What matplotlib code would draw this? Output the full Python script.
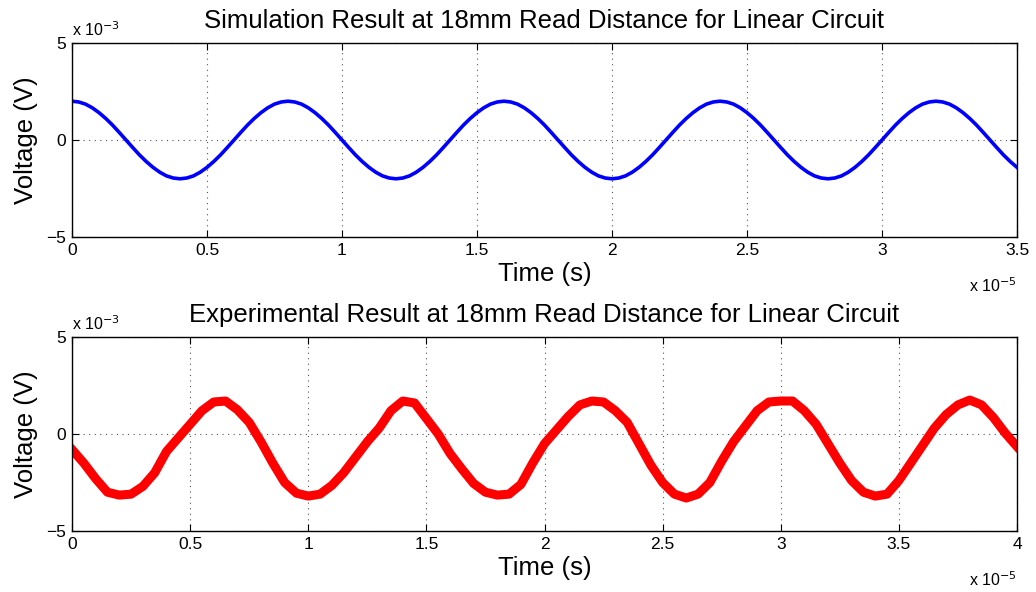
import numpy as np
import matplotlib
matplotlib.use("Agg")
import matplotlib.pyplot as plt
from matplotlib.ticker import FuncFormatter

plt.rcParams['font.family'] = ['Liberation Sans', 'DejaVu Sans']

# ---- data (time in units of 1e-5 s, voltage in units of 1e-3 V) ----
sim_t = [i * 0.025 for i in range(141)]
sim_v = [2.0, 1.96, 1.85, 1.66, 1.41, 1.11, 0.77, 0.39, 0.0, -0.39, -0.77, -1.11, -1.41, -1.66, -1.85, -1.96,
         -2.0, -1.96, -1.85, -1.66, -1.41, -1.11, -0.77, -0.39, 0.0, 0.39, 0.77, 1.11, 1.41, 1.66, 1.85, 1.96,
         2.0, 1.96, 1.85, 1.66, 1.41, 1.11, 0.77, 0.39, 0.0, -0.39, -0.77, -1.11, -1.41, -1.66, -1.85, -1.96,
         -2.0, -1.96, -1.85, -1.66, -1.41, -1.11, -0.77, -0.39, 0.0, 0.39, 0.77, 1.11, 1.41, 1.66, 1.85, 1.96,
         2.0, 1.96, 1.85, 1.66, 1.41, 1.11, 0.77, 0.39, 0.0, -0.39, -0.77, -1.11, -1.41, -1.66, -1.85, -1.96,
         -2.0, -1.96, -1.85, -1.66, -1.41, -1.11, -0.77, -0.39, 0.0, 0.39, 0.77, 1.11, 1.41, 1.66, 1.85, 1.96,
         2.0, 1.96, 1.85, 1.66, 1.41, 1.11, 0.77, 0.39, 0.0, -0.39, -0.77, -1.11, -1.41, -1.66, -1.85, -1.96,
         -2.0, -1.96, -1.85, -1.66, -1.41, -1.11, -0.77, -0.39, 0.0, 0.39, 0.77, 1.11, 1.41, 1.66, 1.85, 1.96,
         2.0, 1.96, 1.85, 1.66, 1.41, 1.11, 0.77, 0.39, 0.0, -0.39, -0.77, -1.11, -1.41]

exp_t = [i * 0.05 for i in range(81)]
exp_v = [-0.8, -1.5, -2.3, -3.0, -3.15, -3.1, -2.7, -2.0,
         -0.9, -0.2, 0.5, 1.2, 1.65, 1.7, 1.25, 0.6,
         -0.4, -1.5, -2.5, -3.05, -3.2, -3.1, -2.65, -2.0,
         -1.2, -0.4, 0.3, 1.2, 1.7, 1.6, 0.8, 0.0,
         -1.0, -1.8, -2.55, -3.0, -3.15, -3.1, -2.6, -1.5,
         -0.5, 0.2, 0.9, 1.5, 1.7, 1.65, 1.2, 0.6,
         -0.5, -1.6, -2.5, -3.1, -3.3, -3.1, -2.5, -1.4,
         -0.4, 0.4, 1.2, 1.65, 1.7, 1.7, 1.2, 0.5,
         -0.5, -1.5, -2.4, -3.0, -3.2, -3.1, -2.4, -1.5,
         -0.6, 0.3, 1.0, 1.5, 1.75, 1.5, 0.85, 0.05, -0.65]

sim_xticks = [0, 0.5, 1, 1.5, 2, 2.5, 3, 3.5]
exp_xticks = [0, 0.5, 1, 1.5, 2, 2.5, 3, 3.5, 4]
yticks = [-5, 0, 5]

titles = ["Simulation Result at 18mm Read Distance for Linear Circuit",
          "Experimental Result at 18mm Read Distance for Linear Circuit"]

fig = plt.figure(figsize=(10.36, 5.92), dpi=100)
W, H = 1036, 592
ax1 = fig.add_axes([72 / W, 1 - 237 / H, 945 / W, 194 / H])
ax2 = fig.add_axes([72 / W, 1 - 531 / H, 945 / W, 194 / H])

ax1.plot(np.array(sim_t) * 1e-5, np.array(sim_v) * 1e-3, color=(0, 0, 1), lw=2.6,
         solid_joinstyle='round')
ax2.plot(np.array(exp_t) * 1e-5, np.array(exp_v) * 1e-3, color=(1, 0, 0), lw=6.5,
         solid_joinstyle='round')

fmt_x = FuncFormatter(lambda v, p: ('%g' % round(v * 1e5, 6)))
fmt_y = FuncFormatter(lambda v, p: ('%g' % round(v * 1e3, 6)).replace('-', '\u2212'))

for ax, xt, xmax, title in [(ax1, sim_xticks, 3.5, titles[0]), (ax2, exp_xticks, 4.0, titles[1])]:
    ax.set_xlim(0, xmax * 1e-5)
    ax.set_ylim(-5e-3, 5e-3)
    ax.set_xticks([v * 1e-5 for v in xt])
    ax.set_yticks([v * 1e-3 for v in yticks])
    ax.xaxis.set_major_formatter(fmt_x)
    ax.yaxis.set_major_formatter(fmt_y)
    ax.tick_params(direction='in', top=True, right=True, length=5, width=0.8,
                   labelsize=12.5, pad=4)
    ax.grid(True, linestyle=(0, (1, 4)), color='#555555', linewidth=0.8)
    for s in ax.spines.values():
        s.set_linewidth(1.0)
    ax.set_title(title, fontsize=18.5, pad=11)
    ax.set_xlabel('Time (s)', fontsize=18.5, labelpad=3)
    ax.set_ylabel('Voltage (V)', fontsize=18.5, labelpad=6)
    ax.text(0.0, 1.02, r'x 10$^{-3}$', transform=ax.transAxes, fontsize=11.5,
            ha='left', va='bottom')
    ax.text(1.0, -0.205, r'x 10$^{-5}$', transform=ax.transAxes, fontsize=11.5,
            ha='right', va='top')

fig.savefig('out.png', dpi=100)
